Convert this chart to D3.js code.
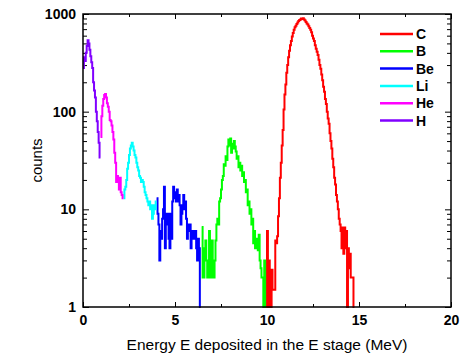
<!DOCTYPE html>
<html>
<head>
<meta charset="utf-8">
<script src="https://cdn.jsdelivr.net/npm/d3@7"></script>
<style>
  html, body { margin: 0; padding: 0; background: #fff; }
  svg { display: block; }
  .tick-label { font-family: "Liberation Sans", Arial, sans-serif; font-weight: bold; font-size: 14px; }
</style>
</head>
<body>
<svg id="chart" width="460" height="355"></svg>
<script>
// Histogram bin width (MeV) shared by all spectra
const binWidth = 0.05;

// Spectra: first bin lower edge (MeV) and counts per bin
const hStart = 0.0;
const hCounts = [280, 360, 330, 400, 470, 540, 500, 430, 370, 320, 280, 200, 165, 140, 100, 80, 62, 48, 34];

const heStart = 0.95;
const heCounts = [55, 90, 115, 135, 148, 152, 140, 122, 112, 100, 82, 80, 72, 62, 52, 38, 30, 19, 22, 20,
                  16, 21, 15, 14, 13];

const liStart = 2.2;
const liCounts = [13, 16, 17, 20, 26, 30, 36, 42, 45, 48, 44, 40, 36, 34, 30, 27, 25, 22, 21, 19,
                  20, 19, 17, 15, 14, 13, 12, 11, 12, 10, 11, 8, 9, 11, 10, 12];

const beStart = 4.0;
const beCounts = [13, 9, 7, 3, 6, 5, 8, 10, 17, 4, 9, 7, 9, 5, 4, 9, 5, 12, 17, 13,
                  15, 12, 16, 12, 14, 11, 7, 9, 11, 14, 10, 12, 8, 5, 7, 6, 7, 4, 6, 5,
                  6, 5, 6, 4, 3, 5, 4, 1];

const bStart = 6.45;
const bCounts = [6.6, 2, 2, 4, 4.8, 3, 2, 2, 6, 3, 2, 4.8, 2, 2, 3, 4.8, 7, 8, 7, 12,
                 13, 16, 20, 22, 29, 28, 35, 32, 44, 52, 45, 53, 38, 47, 42, 50, 44, 39, 33, 35,
                 27, 30, 25, 28, 22, 24, 19, 20, 15, 16, 11, 12, 9, 10, 7, 8, 4.5, 6, 4, 4,
                 5, 3.8, 5.5, 3, 2.5, 2, 2, 1, 3, 1];

const cStart = 9.95;
const cCounts = [1, 6, 1, 3, 2.4, 1, 2.4, 1.5, 1.5, 1.5, 4.8, 4.5, 5.3, 8.5, 13, 21, 30, 45, 65, 105,
                 150, 190, 250, 300, 360, 420, 480, 530, 590, 640, 690, 730, 760, 790, 820, 850, 870, 880, 900, 890,
                 905, 880, 860, 830, 800, 780, 750, 720, 690, 650, 600, 560, 530, 480, 440, 410, 380, 340, 300, 275,
                 240, 210, 180, 160, 135, 120, 100, 85, 75, 60, 50, 42, 33, 27, 21, 18, 14, 12, 10, 8,
                 7, 6, 4, 6.5, 3.5, 6.5, 4, 6, 1, 4, 2.5, 3.5, 2, 2, 2, 1];

// Legend order, names and colours
const seriesNames = ["C", "B", "Be", "Li", "He", "H"];
const seriesColors = ["#ff0000", "#00ff00", "#0000ff", "#00ffff", "#ff00ff", "#8000ff"];
const seriesData = [
  { start: cStart, counts: cCounts },
  { start: bStart, counts: bCounts },
  { start: beStart, counts: beCounts },
  { start: liStart, counts: liCounts },
  { start: heStart, counts: heCounts },
  { start: hStart, counts: hCounts }
];

// Axis ticks
const xMajorTicks = [0, 5, 10, 15, 20];
const xMinorTicks = [2.5, 7.5, 12.5, 17.5];
const yMajorTicks = [1, 10, 100, 1000];
const yMinorTicks = [2, 3, 4, 5, 6, 7, 8, 9, 20, 30, 40, 50, 60, 70, 80, 90, 200, 300, 400, 500, 600, 700, 800, 900];

const xLabel = "Energy E deposited in the E stage (MeV)";
const yLabel = "counts";

const svg = d3.select("#chart");
const plotLeft = 83, plotRight = 451, plotTop = 14, plotBottom = 307;

const x = d3.scaleLinear().domain([0, 20]).range([plotLeft, plotRight]);
const y = d3.scaleLog().domain([1, 1000]).range([plotBottom, plotTop]).clamp(true);

// Axes with inward ticks on all four sides
function styleAxis(g) {
  g.select(".domain").remove();
  g.selectAll(".tick line").attr("stroke", "#000").attr("stroke-width", 1);
  g.selectAll(".tick text").attr("class", "tick-label").attr("fill", "#000");
}

svg.append("g").attr("transform", `translate(0,${plotBottom})`)
  .call(d3.axisBottom(x).tickValues(xMajorTicks).tickSize(-5).tickPadding(8).tickFormat(d3.format("d")))
  .call(styleAxis);
svg.append("g").attr("transform", `translate(0,${plotBottom})`)
  .call(d3.axisBottom(x).tickValues(xMinorTicks).tickSize(-3).tickFormat(""))
  .call(styleAxis);
svg.append("g").attr("transform", `translate(0,${plotTop})`)
  .call(d3.axisTop(x).tickValues(xMajorTicks).tickSize(-5).tickFormat(""))
  .call(styleAxis);
svg.append("g").attr("transform", `translate(0,${plotTop})`)
  .call(d3.axisTop(x).tickValues(xMinorTicks).tickSize(-3).tickFormat(""))
  .call(styleAxis);

svg.append("g").attr("transform", `translate(${plotLeft},0)`)
  .call(d3.axisLeft(y).tickValues(yMajorTicks).tickSize(-6).tickPadding(7).tickFormat(d3.format("d")))
  .call(styleAxis);
svg.append("g").attr("transform", `translate(${plotLeft},0)`)
  .call(d3.axisLeft(y).tickValues(yMinorTicks).tickSize(-4).tickFormat(""))
  .call(styleAxis);
svg.append("g").attr("transform", `translate(${plotRight},0)`)
  .call(d3.axisRight(y).tickValues(yMajorTicks).tickSize(-6).tickFormat(""))
  .call(styleAxis);
svg.append("g").attr("transform", `translate(${plotRight},0)`)
  .call(d3.axisRight(y).tickValues(yMinorTicks).tickSize(-4).tickFormat(""))
  .call(styleAxis);

// Spectra as step histograms
const line = d3.line()
  .x(d => x(d[0]))
  .y(d => y(Math.max(d[1], 1)))
  .curve(d3.curveStepAfter);

const plot = svg.append("g");
seriesData.forEach((s, i) => {
  const pts = s.counts.map((c, k) => [s.start + k * binWidth, c]);
  pts.push([s.start + s.counts.length * binWidth, s.counts[s.counts.length - 1]]);
  plot.append("path")
    .datum(pts)
    .attr("d", line)
    .attr("fill", "none")
    .attr("stroke", seriesColors[i])
    .attr("stroke-width", 2)
    .attr("stroke-linejoin", "miter");
});

// Frame
svg.append("rect")
  .attr("x", plotLeft).attr("y", plotTop)
  .attr("width", plotRight - plotLeft).attr("height", plotBottom - plotTop)
  .attr("fill", "none").attr("stroke", "#000").attr("stroke-width", 1.5);

// Legend
const legend = svg.append("g");
seriesNames.forEach((name, i) => {
  const ly = 34 + i * 17.3;
  legend.append("line")
    .attr("x1", 380).attr("x2", 413).attr("y1", ly).attr("y2", ly)
    .attr("stroke", seriesColors[i]).attr("stroke-width", 2.5);
  legend.append("text")
    .attr("x", 416).attr("y", ly + 5)
    .attr("class", "tick-label")
    .text(name);
});

// Axis titles
svg.append("text")
  .attr("x", 267).attr("y", 350)
  .attr("text-anchor", "middle")
  .attr("font-family", "Liberation Sans, Arial, sans-serif")
  .attr("font-size", 15.5)
  .text(xLabel);

svg.append("text")
  .attr("transform", `translate(42,${(plotTop + plotBottom) / 2}) rotate(-90)`)
  .attr("text-anchor", "middle")
  .attr("font-family", "Liberation Sans, Arial, sans-serif")
  .attr("font-size", 15)
  .text(yLabel);
</script>
</body>
</html>
